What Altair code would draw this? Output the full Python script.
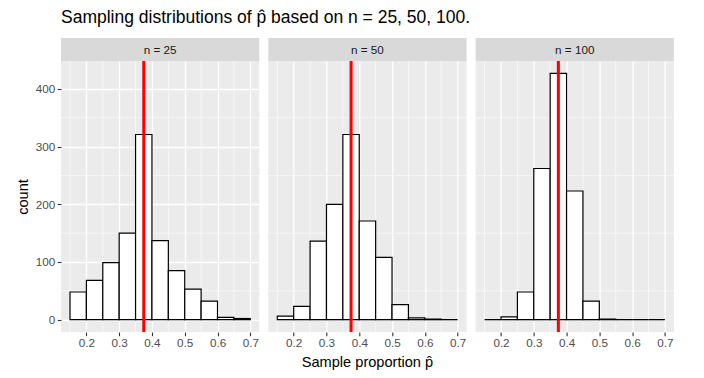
import altair as alt
import pandas as pd

# ---------------- data ----------------
bin_lo = [0.15, 0.20, 0.25, 0.30, 0.35, 0.40, 0.45, 0.50, 0.55, 0.60, 0.65]
bin_width = 0.05
sample_sizes = [25, 50, 100]
counts_n25 = [48, 68, 99, 150, 321, 137, 85, 53, 32, 4, 2]
counts_n50 = [6, 23, 136, 200, 321, 171, 108, 26, 3, 1, 0]
counts_n100 = [0, 5, 48, 262, 427, 223, 32, 1, 0, 0, 0]
p_true = 0.375

x_ticks = [0.2, 0.3, 0.4, 0.5, 0.6, 0.7]
x_minor = [0.15, 0.25, 0.35, 0.45, 0.55, 0.65]
y_ticks = [0, 100, 200, 300, 400]
y_minor = [50, 150, 250, 350]

title_text = "Sampling distributions of p\u0302 based on n = 25, 50, 100."
x_title = "Sample proportion p\u0302"
y_title = "count"

# ---------------- layout / style ----------------
FONT = "Liberation Sans"
W, H = 198.3, 271
GAP = 8.3
xscale = alt.Scale(domain=[0.1225, 0.7275], nice=False, zero=False)
yscale = alt.Scale(domain=[-21.35, 448.35], nice=False, zero=False)

xaxis = alt.Axis(values=x_ticks, format=".1f", title=None, grid=True,
                 gridColor="white", gridWidth=1.3, domain=False,
                 tickColor="#333333", tickSize=3.7, tickWidth=1.1,
                 labelColor="#4D4D4D", labelFontSize=11.7, labelFont=FONT,
                 labelPadding=2, labelFlush=False)


def yaxis(show):
    if not show:
        return None
    return alt.Axis(values=y_ticks, title=y_title, grid=True,
                    gridColor="white", gridWidth=1.3, domain=False,
                    tickColor="#333333", tickSize=3.7, tickWidth=1.1,
                    labelColor="#4D4D4D", labelFontSize=11.7, labelFont=FONT,
                    labelPadding=2.5,
                    titleFont=FONT, titleFontSize=14.6, titleFontWeight="normal",
                    titleColor="black", titleAngle=-90, titleAlign="center",
                    titleBaseline="alphabetic", titleX=-33.4, titleY=H / 2)


def panel(idx, n, counts):
    show_y = idx == 0
    ya = yaxis(show_y)
    df = pd.DataFrame({
        "lo": bin_lo,
        "hi": [round(b + bin_width, 3) for b in bin_lo],
        "count": counts,
        "zero": [0] * len(bin_lo),
    })
    one = pd.DataFrame({"label": [f"n = {n}"]})

    grid_x = alt.Chart(pd.DataFrame({"v": x_minor})).mark_rule(
        color="white", strokeWidth=0.6).encode(
        x=alt.X("v:Q", scale=xscale, axis=xaxis))
    grid_y = alt.Chart(pd.DataFrame({"c": y_minor})).mark_rule(
        color="white", strokeWidth=0.6).encode(
        y=alt.Y("c:Q", scale=yscale, axis=ya))
    bars = alt.Chart(df).mark_rect(
        fill="white", stroke="black", strokeWidth=1.2).encode(
        x=alt.X("lo:Q", scale=xscale, axis=xaxis),
        x2="hi:Q",
        y=alt.Y("count:Q", scale=yscale, axis=ya),
        y2="zero:Q")
    vline = alt.Chart(pd.DataFrame({"p": [p_true]})).mark_rule(
        color="#FF0000", strokeWidth=3).encode(
        x=alt.X("p:Q", scale=xscale, axis=xaxis))
    strip = alt.Chart(one).mark_rect(color="#D9D9D9").encode(
        x=alt.value(0), x2=alt.value(W), y=alt.value(-23), y2=alt.value(0))
    strip_text = alt.Chart(one).mark_text(
        font=FONT, fontSize=11.7, color="#1A1A1A", align="center",
        baseline="middle").encode(
        x=alt.value(W / 2), y=alt.value(-11.3), text="label:N")

    layers = [grid_x, grid_y, bars, vline, strip, strip_text]

    if idx == 0:
        anchor = alt.Chart(one).mark_rect(color="white").encode(
            x=alt.value(-52.7), x2=alt.value(-51.7),
            y=alt.value(-53), y2=alt.value(-52))
        title = alt.Chart(pd.DataFrame({"t": [title_text]})).mark_text(
            font=FONT, fontSize=17.5, color="black", align="left",
            baseline="alphabetic").encode(
            x=alt.value(0), y=alt.value(-37.7), text="t:N")
        layers = [anchor] + layers + [title]
    if idx == 1:
        xt = alt.Chart(pd.DataFrame({"t": [x_title]})).mark_text(
            font=FONT, fontSize=14.6, color="black", align="center",
            baseline="alphabetic").encode(
            x=alt.value(W / 2), y=alt.value(306), text="t:N")
        layers = layers + [xt]

    return alt.layer(*layers).properties(
        width=W, height=H,
        view=alt.ViewBackground(fill="#EBEBEB", strokeWidth=0))


panels = [panel(i, n, c) for i, (n, c) in
          enumerate(zip(sample_sizes, [counts_n25, counts_n50, counts_n100]))]

chart = alt.hconcat(*panels, spacing=GAP, bounds="flush").properties(
    padding=0, background="white"
).configure(font=FONT, view=alt.ViewConfig(fill="#EBEBEB", strokeWidth=0))

chart.save("out.html", embed_options={"renderer": "svg", "actions": False})
